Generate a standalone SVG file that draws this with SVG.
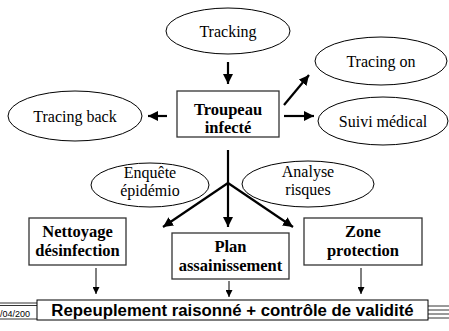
<svg xmlns="http://www.w3.org/2000/svg" width="449" height="331" viewBox="0 0 449 331">
<defs>
<style>
.ell{fill:#fff;stroke:#000;stroke-width:1}
.box{fill:#fff;stroke:#333;stroke-width:1.3}
text{fill:#000}
.lt{font-size:16px;text-anchor:middle}
.bt{font-size:16.5px;font-weight:bold;text-anchor:middle}
.thick{stroke:#000;stroke-width:2.2;fill:none}
.thin{stroke:#000;stroke-width:1;fill:none}
.rule{stroke:#000;stroke-width:0.8}
</style>
<marker id="ah" markerUnits="userSpaceOnUse" markerWidth="11" markerHeight="10" refX="10" refY="5" orient="auto">
<path d="M0,0 L10,5 L0,10 Z" fill="#000"/>
</marker>
<marker id="ahs" markerUnits="userSpaceOnUse" markerWidth="8" markerHeight="7" refX="7" refY="3.5" orient="auto">
<path d="M0,0 L7,3.5 L0,7 Z" fill="#000"/>
</marker>
</defs>
<rect width="449" height="331" fill="#fff"/>
<g id="connectors">
<line class="thick" x1="228" y1="62" x2="228" y2="84" marker-end="url(#ah)"/>
<line class="thick" x1="167" y1="116" x2="148" y2="116" marker-end="url(#ah)"/>
<line class="thick" x1="284" y1="105" x2="309" y2="75" marker-end="url(#ah)"/>
<line class="thick" x1="284" y1="116" x2="314" y2="116" marker-end="url(#ah)"/>
<line class="thick" x1="228" y1="150" x2="228" y2="227" marker-end="url(#ah)"/>
<line class="thick" x1="228" y1="183" x2="163" y2="227" marker-end="url(#ah)"/>
<line class="thick" x1="228" y1="183" x2="293" y2="227" marker-end="url(#ah)"/>
<line class="thin" x1="96" y1="268" x2="96" y2="294" marker-end="url(#ahs)"/>
<line class="thin" x1="229" y1="281" x2="229" y2="297" marker-end="url(#ahs)"/>
<line class="thin" x1="361" y1="268" x2="361" y2="294" marker-end="url(#ahs)"/>
</g>
<g font-family="Liberation Serif, Times New Roman, serif">
<g id="tracking">
<ellipse class="ell" cx="228" cy="31" rx="62" ry="23"/>
<text class="lt" x="228" y="37">Tracking</text>
</g>
<g id="tracing-back">
<ellipse class="ell" cx="75" cy="116" rx="67" ry="25"/>
<text class="lt" x="75" y="122">Tracing back</text>
</g>
<g id="tracing-on">
<ellipse class="ell" cx="381" cy="61" rx="66" ry="24"/>
<text class="lt" x="381" y="67">Tracing on</text>
</g>
<g id="suivi-medical">
<ellipse class="ell" cx="383" cy="121" rx="65" ry="24"/>
<text class="lt" x="383" y="127">Suivi médical</text>
</g>
<g id="troupeau">
<rect class="box" x="177" y="91" width="102" height="46"/>
<text class="bt" x="228" y="115">Troupeau</text>
<text class="bt" x="228" y="133">infecté</text>
</g>
<g id="enquete">
<ellipse class="ell" cx="150" cy="185" rx="59" ry="22"/>
<text class="lt" x="150" y="178">Enquête</text>
<text class="lt" x="150" y="196">épidémio</text>
</g>
<g id="analyse">
<ellipse class="ell" cx="308" cy="184" rx="66" ry="23"/>
<text class="lt" x="308" y="177">Analyse</text>
<text class="lt" x="308" y="195">risques</text>
</g>
<g id="nettoyage">
<rect class="box" x="29" y="218" width="97" height="47"/>
<text class="bt" x="77.5" y="237">Nettoyage</text>
<text class="bt" x="77.5" y="256">désinfection</text>
</g>
<g id="plan">
<rect class="box" x="172" y="233" width="117" height="46"/>
<text class="bt" x="230.5" y="252">Plan</text>
<text class="bt" x="230.5" y="271">assainissement</text>
</g>
<g id="zone">
<rect class="box" x="304" y="218" width="118" height="47"/>
<text class="bt" x="363" y="237">Zone</text>
<text class="bt" x="363" y="256">protection</text>
</g>
</g>
<g id="footer">
<line class="rule" x1="0" y1="303" x2="37" y2="303"/>
<line class="rule" x1="0" y1="305.5" x2="37" y2="305.5"/>
<text x="0" y="317" font-family="Liberation Sans, Arial, sans-serif" font-size="9" fill="#555">/04/200</text>
<line class="rule" x1="0" y1="319" x2="37" y2="319"/>
<line class="rule" x1="428" y1="306" x2="449" y2="306"/>
<line class="rule" x1="428" y1="310" x2="449" y2="310"/>
<line class="rule" x1="428" y1="314" x2="449" y2="314"/>
<line class="rule" x1="428" y1="318" x2="449" y2="318"/>
</g>
<g id="repeuplement">
<rect x="37" y="300" width="391" height="20" fill="#fff" stroke="#000" stroke-width="1"/>
<text x="232.5" y="315.5" font-family="Liberation Sans, Arial, sans-serif" font-size="16.8" font-weight="bold" text-anchor="middle" fill="#000">Repeuplement raisonné + contrôle de validité</text>
</g>
</svg>
